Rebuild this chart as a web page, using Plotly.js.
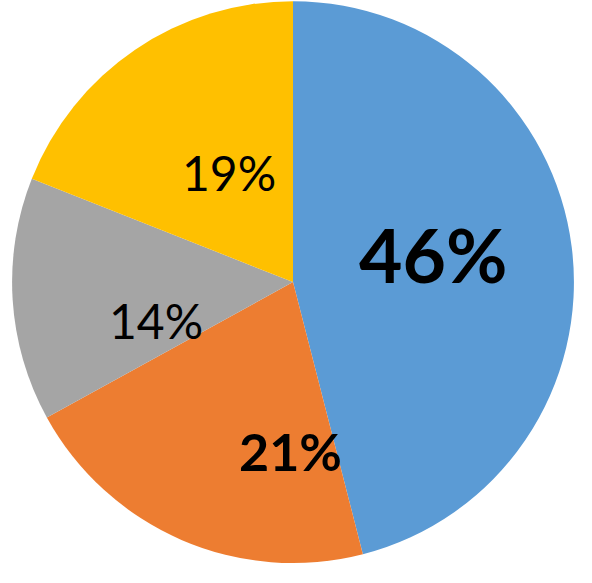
<!DOCTYPE html>
<html>
<head>
<meta charset="utf-8">
<script src="https://cdn.plot.ly/plotly-3.0.1.min.js"></script>
<style>html,body{margin:0;padding:0;background:#fff;}#chart{width:592px;height:583px;}</style>
</head>
<body>
<div id="chart"></div>
<script>
const categories = ["A", "B", "C", "D"];
const values = [46, 21, 14, 19];
const colors = ["#5B9BD5", "#ED7D31", "#A5A5A5", "#FFC000"];

// label styling / placement (layout, not data)
const labelSizes = [75, 52, 48, 48];
const labelWeights = ["bold", "bold", "normal", "normal"];
const labelPosX = [433 / 592, 290 / 592, 156 / 592, 229 / 592];
const labelPosY = [1 - 254 / 583, 1 - 451 / 583, 1 - 320 / 583, 1 - 173 / 583];

const trace = {
  type: "pie",
  labels: categories,
  values: values,
  textinfo: "none",
  hoverinfo: "none",
  sort: false,
  direction: "clockwise",
  rotation: 0,
  marker: { colors: colors, line: { color: "#ffffff", width: 0 } },
  domain: { x: [0.0203, 0.9696], y: [0.0343, 0.998] },
  showlegend: false
};

const total = values.reduce((a, b) => a + b, 0);
const annotations = values.map((v, i) => ({
  xref: "paper", yref: "paper",
  x: labelPosX[i], y: labelPosY[i],
  xanchor: "center", yanchor: "middle",
  text: Math.round(v / total * 100) + "%",
  showarrow: false,
  font: { family: "Lato", size: labelSizes[i], color: "#000000", weight: labelWeights[i] }
}));

const layout = {
  width: 592, height: 583,
  margin: { l: 0, r: 0, t: 0, b: 0 },
  paper_bgcolor: "#ffffff",
  showlegend: false,
  annotations: annotations
};

Plotly.newPlot("chart", [trace], layout, { displayModeBar: false, staticPlot: true });
</script>
</body>
</html>
